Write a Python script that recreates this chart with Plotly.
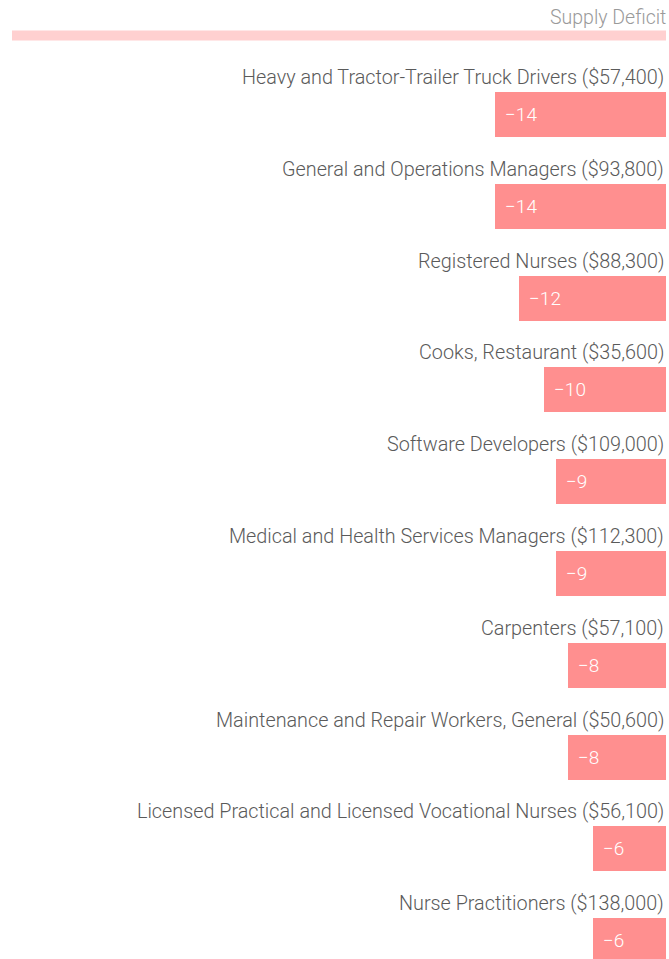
import plotly.graph_objects as go

occupations = [
    "Heavy and Tractor-Trailer Truck Drivers",
    "General and Operations Managers",
    "Registered Nurses",
    "Cooks, Restaurant",
    "Software Developers",
    "Medical and Health Services Managers",
    "Carpenters",
    "Maintenance and Repair Workers, General",
    "Licensed Practical and Licensed Vocational Nurses",
    "Nurse Practitioners",
]
wages = ["$57,400", "$93,800", "$88,300", "$35,600", "$109,000",
         "$112,300", "$57,100", "$50,600", "$56,100", "$138,000"]
deficit = [-14, -14, -12, -10, -9, -9, -8, -8, -6, -6]

labels = [f"{o} ({w})" for o, w in zip(occupations, wages)]
value_text = [f"\u2212{abs(v)}" for v in deficit]

FONT = "Roboto"
W, H = 669, 959
ML, MR, MT, MB = 12, 3, 60, 0

fig = go.Figure()
fig.add_trace(go.Bar(
    y=labels, x=deficit, orientation="h",
    marker=dict(color="#ff8f8f", line=dict(width=0)),
    width=0.49,
    hoverinfo="skip",
))

for lab, v, t in zip(labels, deficit, value_text):
    fig.add_annotation(
        x=0, y=lab, xref="x", yref="y", text=lab, showarrow=False,
        xanchor="right", yanchor="middle", yshift=37,
        font=dict(family=FONT, size=19.8, color="#5a5a5a", weight=300),
    )
    fig.add_annotation(
        x=v, y=lab, xref="x", yref="y", text=t, showarrow=False,
        xanchor="left", yanchor="middle", xshift=8,
        font=dict(family=FONT, size=19, color="white", weight=300),
    )

fig.add_annotation(
    x=1, y=1, xref="paper", yref="paper", text="Supply Deficit", showarrow=False,
    xanchor="right", yanchor="middle", yshift=(MT - 17), xshift=2,
    font=dict(family=FONT, size=19.5, color="#9a9a9a", weight=300),
)
ly = 1 + (MT - 35.5) / (H - MT - MB)
fig.add_shape(type="line", xref="paper", yref="paper", x0=0, x1=1,
              y0=ly, y1=ly, line=dict(color="#ffd0d0", width=10))

fig.update_layout(
    width=W, height=H,
    margin=dict(l=ML, r=MR, t=MT, b=MB, pad=0),
    paper_bgcolor="white", plot_bgcolor="white",
    showlegend=False, bargap=0,
    xaxis=dict(range=[-(W - ML - MR) / 12.25, 0], visible=False, fixedrange=True),
    yaxis=dict(range=[9.199, -0.594], visible=False, fixedrange=True,
               categoryorder="array", categoryarray=labels),
)

fig.write_html(
    "out.html",
    config={"displayModeBar": False},
    post_script="document.body.style.margin='0';document.body.style.overflow='hidden';",
)
